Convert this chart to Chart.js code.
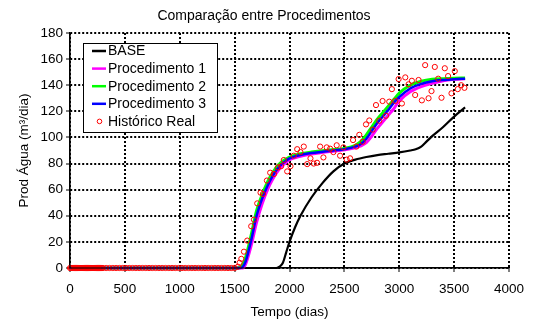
<!DOCTYPE html>
<html><head><meta charset="utf-8">
<script src="https://cdn.jsdelivr.net/npm/chart.js@4/dist/chart.umd.min.js"></script>
<style>html,body{margin:0;padding:0;background:#fff}#wrap{width:540px;height:325px}</style>
</head><body><div id="wrap"><canvas id="c" width="540" height="325"></canvas></div>
<script>
// ---- data ----
const chartTitle = 'Comparação entre Procedimentos';
const xTitle = 'Tempo (dias)';
const yTitle = 'Prod Água (m³/dia)';
const seriesLabels = ['BASE', 'Procedimento 1', 'Procedimento 2', 'Procedimento 3', 'Histórico Real'];

const baseTimes  = [0, 1880, 1910, 1940, 1970, 2000, 2050, 2100, 2200, 2300, 2400, 2500, 2600, 2700, 2800, 2900, 3000, 3100, 3150, 3200, 3250, 3300, 3400, 3500, 3600];
const baseValues = [0, 0, 1, 4, 12, 20, 31, 40, 54, 65, 74, 80, 83, 85, 86.5, 87.5, 88.5, 90, 91, 93, 97, 101, 108, 116, 123];

const procTimes = [0, 1500, 1550, 1575, 1600, 1650, 1700, 1750, 1800, 1850, 1900, 1950, 2000, 2100, 2200, 2300, 2400, 2500, 2600, 2650, 2700, 2750, 2800, 2850, 2900, 2950, 3000, 3100, 3200, 3300, 3400, 3500, 3600];
const proc1Values = [0, 0, 0, 0, 3, 17, 35, 49, 60, 68.5, 75, 79.5, 83, 85.5, 87.3, 88.5, 89.5, 90.5, 92, 93.5, 96, 101, 107, 112, 117, 122, 128, 135, 139, 141.5, 143.5, 144.5, 145];
const proc2Values = [0, 0, 0.5, 3, 8, 25, 44, 56, 66, 73.5, 79, 82.5, 85, 87.5, 88.8, 89.8, 90.7, 91.6, 94, 97, 102, 108, 114, 119, 124, 129, 134, 140, 143, 144.5, 145, 145.3, 145.5];
const proc3Values = [0, 0, 0, 1, 5, 21, 40, 53, 63, 71, 77, 81, 84, 86.5, 88, 89, 90, 91, 93, 95, 99, 105, 111, 116, 121, 126.5, 131, 137.5, 141, 143, 144, 144.6, 145];

const histTimes = [0,10,20,30,40,50,60,70,80,90,100,110,120,130,140,150,160,170,180,190,200,210,220,230,240,250,260,270,280,290,300,
  330,360,390,420,450,480,510,540,570,600,630,660,690,720,750,780,810,840,870,900,930,960,990,1020,1050,1080,1110,1140,1170,1200,1230,1260,1290,1320,1350,1380,1410,1440,1470,1500,
  1530,1545,1561,1585,1615,1651,1676,1706,1736,1758,1794,1824,1858,1894,1924,1948,1979,2009,2039,2070,2100,2130,2161,2191,2221,2251,2279,2309,2339,2370,2400,2430,2461,2491,2521,2552,2579,2609,2636,2667,2697,2727,2758,2788,2818,2848,2879,2909,2933,2964,2994,3024,3055,3085,3115,3145,3176,3206,3236,3267,3294,3324,3355,3385,3415,3445,3476,3506,3533,3564,3594];
const histValues = [0,0,0,0,0,0,0,0,0,0,0,0,0,0,0,0,0,0,0,0,0,0,0,0,0,0,0,0,0,0,0,
  0,0,0,0,0,0,0,0,0,0,0,0,0,0,0,0,0,0,0,0,0,0,0,0,0,0,0,0,0,0,0,0,0,0,0,0,0,0,0,0,
  1,4,7,12.5,21,32,37,49.5,57.7,56.7,67,73,72,77,78,82.7,74,78,86,91,88.8,93,79.6,84,80,80.6,93,84.7,92.4,91.4,88.8,94,86,92.4,83,84,98,93,102,96.7,110,113,106,124.8,112.8,127.9,116.6,127.4,137,128,144.7,126,146,140.7,143.4,132.5,144,128.4,155.4,130,135.5,154,145,130.4,153,147,133.8,150.8,137,140,138];

const xTicksMin = 0, xTicksMax = 4000, xStep = 500;
const yTicksMin = 0, yTicksMax = 180, yStep = 20;

// ---- build ----
const pts = (xs, ys) => xs.map((x, i) => ({x: x, y: ys[i]}));
const FONT = "'Liberation Sans', Arial, Helvetica, sans-serif";
Chart.defaults.font.family = FONT;
Chart.defaults.color = '#000';

const colors = ['#000000', '#ff00ff', '#00ff00', '#0000ff', '#ff0000'];
const gridDash = [2, 2];

const lineDs = (label, data, color, width, order) => ({
  label, data, borderColor: color, backgroundColor: color, borderWidth: width,
  pointRadius: 0, tension: 0.4, cubicInterpolationMode: 'monotone', order, showLine: true, fill: false, clip: 10
});

const titleAndLegend = {
  id: 'titleAndLegend',
  afterDraw(chart) {
    const ctx = chart.ctx;
    ctx.save();
    ctx.setLineDash([]);
    // title
    ctx.font = '14px ' + FONT;
    ctx.fillStyle = '#000';
    ctx.textAlign = 'center';
    ctx.textBaseline = 'middle';
    ctx.fillText(chartTitle, 264, 16);
    // legend box
    const bx = 83, by = 43, bw = 134, bh = 89;
    ctx.fillStyle = '#fff';
    ctx.fillRect(bx, by, bw, bh);
    ctx.strokeStyle = '#000';
    ctx.lineWidth = 1;
    ctx.strokeRect(bx + 0.5, by + 0.5, bw, bh);
    ctx.textAlign = 'left';
    for (let i = 0; i < seriesLabels.length; i++) {
      const cy = 51 + i * 17.6;
      ctx.strokeStyle = colors[i];
      if (i < 4) {
        ctx.lineWidth = 2.5;
        ctx.beginPath(); ctx.moveTo(92, cy); ctx.lineTo(106, cy); ctx.stroke();
      } else {
        ctx.lineWidth = 1;
        ctx.beginPath(); ctx.arc(99.5, cy, 2.3, 0, Math.PI * 2); ctx.stroke();
      }
      ctx.fillStyle = '#000';
      ctx.fillText(seriesLabels[i], 108, cy + 0.5);
    }
    // solid axes on top of the dotted grid
    const a = chart.chartArea;
    ctx.strokeStyle = '#000';
    ctx.lineWidth = 1.2;
    ctx.beginPath();
    ctx.moveTo(a.left, a.top); ctx.lineTo(a.left, a.bottom); ctx.lineTo(a.right, a.bottom);
    ctx.stroke();
    ctx.restore();
  }
};

new Chart(document.getElementById('c'), {
  type: 'line',
  data: {
    datasets: [
      lineDs(seriesLabels[0], pts(baseTimes, baseValues), colors[0], 2.2, 4),
      lineDs(seriesLabels[1], pts(procTimes, proc1Values), colors[1], 3, 3),
      lineDs(seriesLabels[2], pts(procTimes, proc2Values), colors[2], 3, 2),
      lineDs(seriesLabels[3], pts(procTimes, proc3Values), colors[3], 2.5, 1),
      { label: seriesLabels[4], data: pts(histTimes, histValues), showLine: false,
        borderColor: colors[4], backgroundColor: 'rgba(0,0,0,0)', borderWidth: 1,
        pointRadius: 2.6, pointStyle: 'circle', order: 0, clip: 10 }
    ]
  },
  options: {
    responsive: false, animation: false, devicePixelRatio: 1,
    layout: { padding: { left: 0, right: 31, top: 33, bottom: 0 } },
    plugins: {
      legend: { display: false },
      tooltip: { enabled: false },
      title: { display: false }
    },
    scales: {
      x: {
        type: 'linear', min: xTicksMin, max: xTicksMax,
        ticks: { stepSize: xStep, font: { size: 13.5 }, color: '#000', padding: 9, maxRotation: 0,
          callback: v => String(v) },
        grid: { color: '#000', lineWidth: 2, borderDash: gridDash, tickLength: 4, tickColor: '#000', tickWidth: 1, tickBorderDash: [] },
        border: { display: true, color: '#000', width: 1.2, dash: gridDash },
        title: { display: true, text: xTitle, font: { size: 13.5 }, color: '#000', padding: { top: 0, bottom: 5 } },
        afterFit(s) { s.height = 57; }
      },
      y: {
        min: yTicksMin, max: yTicksMax,
        ticks: { stepSize: yStep, font: { size: 13.5 }, color: '#000', padding: 3,
          callback: v => String(v) },
        grid: { color: '#000', lineWidth: 2, borderDash: gridDash, tickLength: 4, tickColor: '#000', tickWidth: 1, tickBorderDash: [] },
        border: { display: true, color: '#000', width: 1.2, dash: gridDash },
        title: { display: true, text: yTitle, font: { size: 13.5 }, color: '#000', padding: { top: 16, bottom: 0 } },
        afterFit(s) { s.width = 70; }
      }
    }
  },
  plugins: [titleAndLegend]
});
</script></body></html>
